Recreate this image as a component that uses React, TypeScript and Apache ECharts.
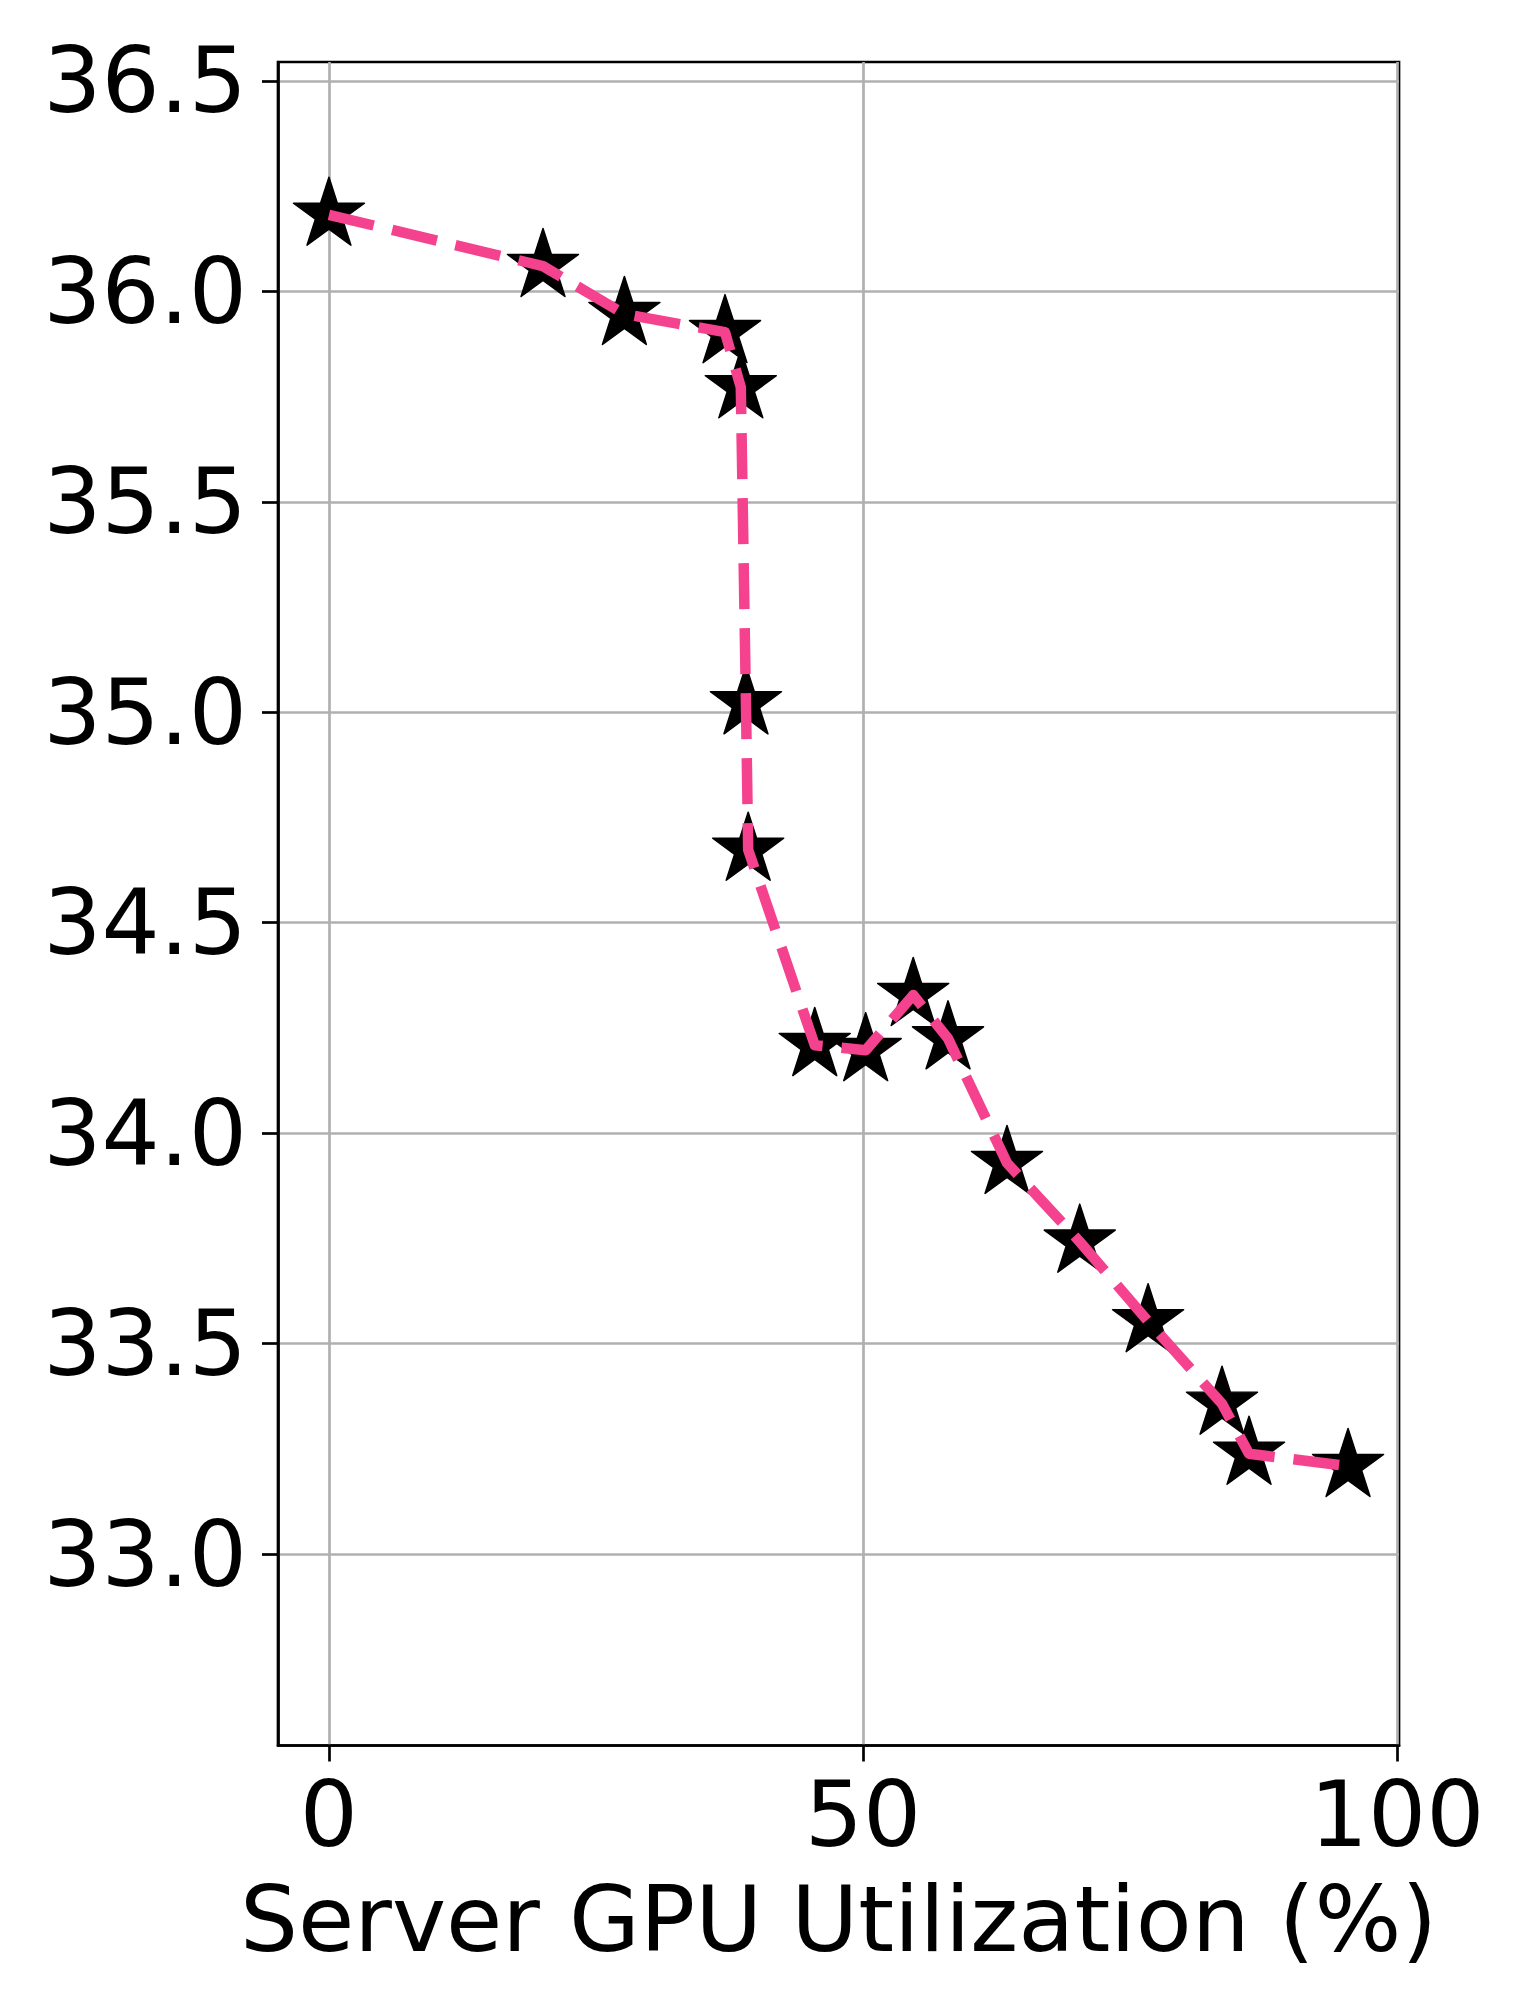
import React, { useEffect, useRef } from "react";
import * as echarts from "echarts";

const xValues = [0, 20.04, 27.66, 37.08, 38.56, 39.04, 39.25, 45.48, 50.25, 54.7, 57.96, 63.48, 70.29, 76.69, 83.61, 86.14, 95.41];
const yValues = [36.182, 36.06, 35.946, 35.903, 35.772, 35.021, 34.673, 34.209, 34.197, 34.328, 34.225, 33.929, 33.742, 33.553, 33.357, 33.238, 33.209];
const xTicks = [0, 50, 100];
const yTicks = [33.0, 33.5, 34.0, 34.5, 35.0, 35.5, 36.0, 36.5];
const xLabel = "Server GPU Utilization (%)";

const STAR =
  "path://M0,-100 L22.45,-30.9 L95.11,-30.9 L36.33,11.8 L58.78,80.9 L0,38.2 L-58.78,80.9 L-36.33,11.8 L-95.11,-30.9 L-22.45,-30.9 Z";

const PINK = "#F5428F";
const FONT = "DejaVu Sans";
const FS = 91.5;

export default function App() {
  const ref = useRef<HTMLDivElement>(null);
  useEffect(() => {
    if (!ref.current) return;
    const chart = echarts.init(ref.current, undefined, { renderer: "svg" });
    const points = xValues.map((x, i) => [x, yValues[i]]);
    chart.setOption({
      animation: false,
      backgroundColor: "#fff",
      grid: {
        left: 278,
        top: 62,
        right: 131,
        bottom: 264.5,
        show: true,
        borderColor: "#000",
        borderWidth: 2.7,
        backgroundColor: "transparent",
      },
      xAxis: {
        type: "value",
        min: -4.77,
        max: 100.18,
        name: xLabel,
        nameLocation: "middle",
        nameGap: 128,
        nameTextStyle: { fontSize: FS, fontFamily: FONT, color: "#000" },
        axisLine: { show: true, onZero: false, lineStyle: { color: "#000", width: 2.7 } },
        axisTick: { show: true, length: 16, customValues: xTicks, lineStyle: { color: "#000", width: 2.7 } },
        axisLabel: {
          customValues: xTicks,
          fontSize: FS,
          fontFamily: FONT,
          color: "#000",
          margin: 23,
          formatter: (v: number) => String(v),
        },
        splitLine: { show: true, lineStyle: { color: "#b0b0b0", width: 2.7 } },
      },
      yAxis: {
        type: "value",
        min: 32.545,
        max: 36.545,
        axisLine: { show: true, onZero: false, lineStyle: { color: "#000", width: 2.7 } },
        axisTick: { show: true, length: 16, customValues: yTicks, lineStyle: { color: "#000", width: 2.7 } },
        axisLabel: {
          customValues: yTicks,
          fontSize: FS,
          fontFamily: FONT,
          color: "#000",
          margin: 31,
          formatter: (v: number) => v.toFixed(1),
        },
        splitLine: { show: true, lineStyle: { color: "#b0b0b0", width: 2.7 } },
      },
      series: [
        {
          type: "scatter",
          data: points,
          symbol: STAR,
          symbolSize: [71, 68],
          symbolOffset: [0, -3.6],
          itemStyle: { color: "#000", opacity: 1, borderColor: "#000", borderWidth: 1.5, borderJoin: "round" },
          z: 2,
        },
        {
          type: "line",
          data: points,
          showSymbol: false,
          symbol: "none",
          lineStyle: { color: PINK, width: 10.5, type: [46, 19], cap: "butt", join: "round", opacity: 1 },
          z: 3,
        },
      ],
    });
    return () => chart.dispose();
  }, []);
  return (
    <div
      ref={ref}
      style={{ position: "fixed", left: 0, top: 0, width: 1530, height: 2010, background: "#fff" }}
    />
  );
}
